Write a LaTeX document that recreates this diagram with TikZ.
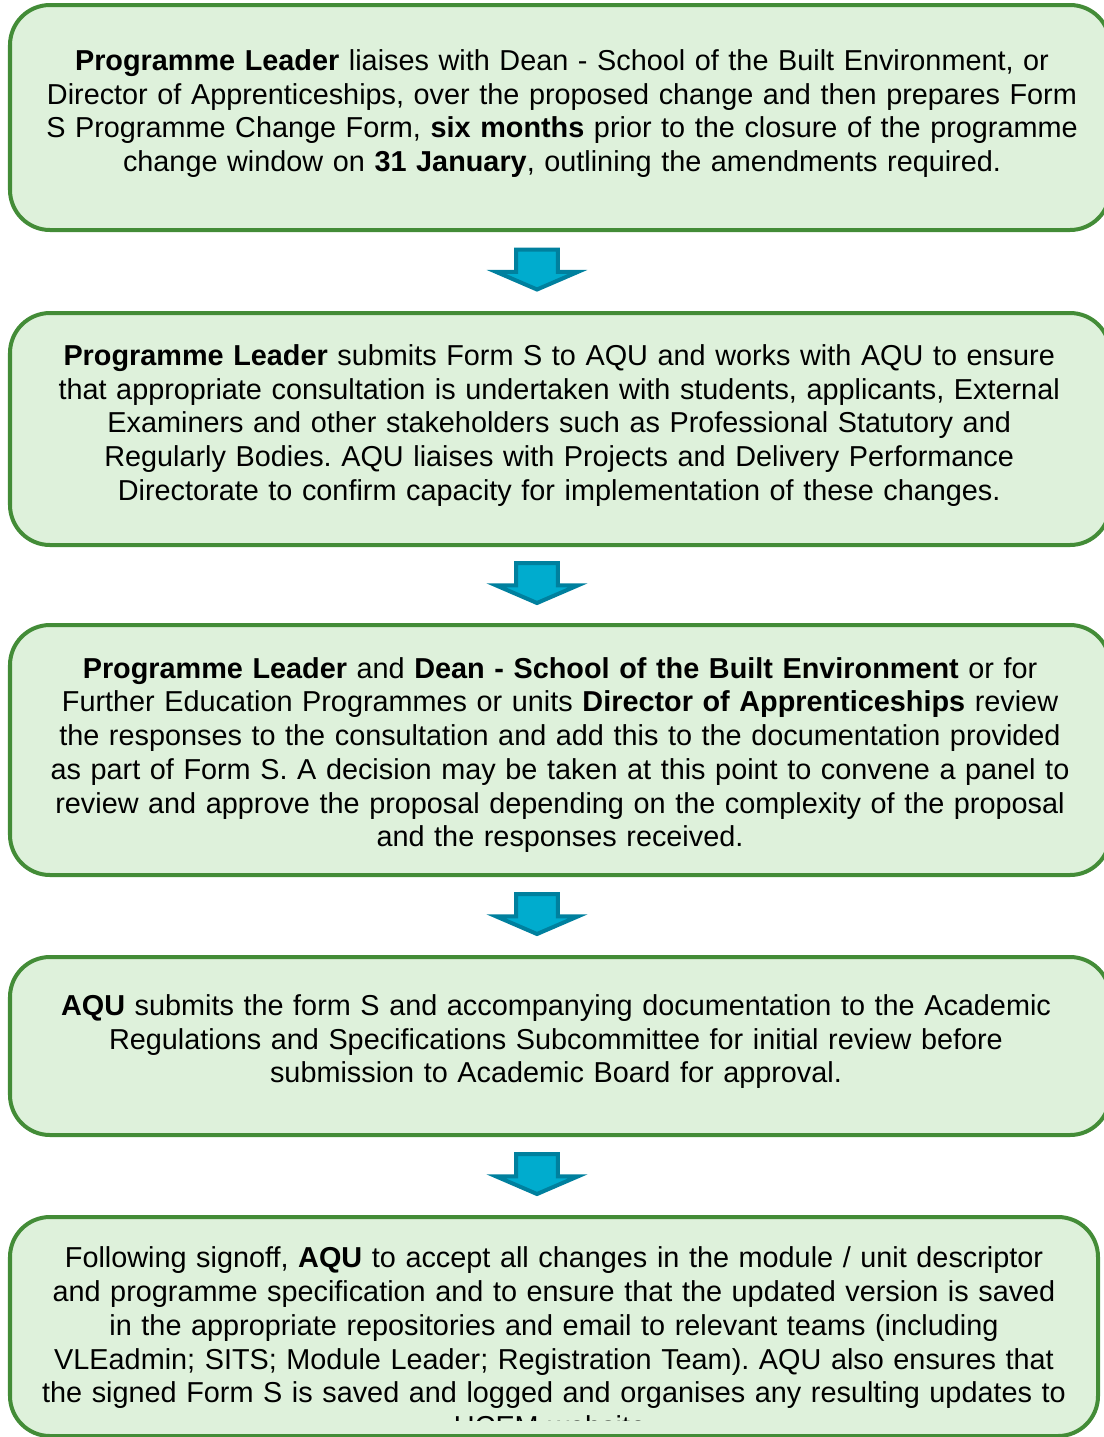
\documentclass[tikz,border=0pt]{standalone}
\usepackage{fontspec}
\setmainfont{Liberation Sans}
\usetikzlibrary{calc}
\usepackage{xcolor}
\definecolor{boxgreen}{RGB}{67,140,55}
\definecolor{boxfill}{RGB}{222,241,219}
\definecolor{arrowcyan}{RGB}{0,172,206}
\definecolor{arrowteal}{RGB}{0,128,158}
\frenchspacing

\begin{document}
\begin{tikzpicture}
  \tikzstyle{mybox}=[draw=boxgreen, fill=boxfill, line width=0.1cm,
    rounded corners=1cm, minimum width=27.5cm, anchor=north west,
    outer sep=0pt];
  \tikzstyle{mytext}=[text width=26.6cm, align=center, inner sep=0pt,
    font=\fontsize{20.5}{24}\selectfont];
  \tikzstyle{myarrow}=[draw=arrowteal, fill=arrowcyan, line width=0.1cm,
    line join=miter];
  %
  \useasboundingbox (0,0) rectangle (27.6,-35.925);
  \clip (0,0) rectangle (27.6,-35.925);
  %
  % step boxes
  \node[mybox, minimum height=5.625cm] (leader) at (0.25,-0.125) {};
  \node[mybox, minimum height=5.8cm] (consult) at (0.25,-7.825) {};
  \node[mybox, minimum height=6.25cm] (review) at (0.25,-15.625) {};
  \node[mybox, minimum height=4.45cm] (submit) at (0.25,-23.925) {};
  \node[mybox, minimum height=5.475cm, minimum width=27.2cm] (signoff)
    at (0.25,-30.425) {};
  %
  % texts of the steps
  \node[mytext] (leadertext) at ($(leader.center) + (0.05, 0.1)$) {
    \textbf{Programme Leader} liaises with Dean - School of the Built Environment, or\\
    Director of Apprenticeships, over the proposed change and then prepares Form\\
    S Programme Change Form, \textbf{six months} prior to the closure of the programme\\
    change window on \textbf{31 January}, outlining the amendments required.};
  %
  \node[mytext] (consulttext) at ($(consult.center) + (-0.02, 0.09)$) {
    \textbf{Programme Leader} submits Form S to AQU and works with AQU to ensure\\
    that appropriate consultation is undertaken with students, applicants, External\\
    Examiners and other stakeholders such as Professional Statutory and\\
    Regularly Bodies. AQU liaises with Projects and Delivery Performance\\
    Directorate to confirm capacity for implementation of these changes.};
  %
  \node[mytext] (reviewtext) at ($(review.center) + (0, -0.125)$) {
    \textbf{Programme Leader} and \textbf{Dean - School of the Built Environment} or for\\
    Further Education Programmes or units \textbf{Director of Apprenticeships} review\\
    the responses to the consultation and add this to the documentation provided\\
    as part of Form S. A decision may be taken at this point to convene a panel to\\
    review and approve the proposal depending on the complexity of the proposal\\
    and the responses received.};
  %
  \node[mytext] (submittext) at ($(submit.center) + (-0.1, 0.11)$) {
    \textbf{AQU} submits the form S and accompanying documentation to the Academic\\
    Regulations and Specifications Subcommittee for initial review before\\
    submission to Academic Board for approval.};
  %
  % last text runs past its box, which cuts it
  \begin{scope}
    \clip (signoff.north west) rectangle ($(signoff.south east) + (0, 0.4)$);
    \node[mytext] (signofftext) at ($(signoff.center) + (0, -0.3875)$) {
      Following signoff, \textbf{AQU} to accept all changes in the module / unit descriptor\\
      and programme specification and to ensure that the updated version is saved\\
      in the appropriate repositories and email to relevant teams (including\\
      VLEadmin; SITS; Module Leader; Registration Team). AQU also ensures that\\
      the signed Form S is saved and logged and organises any resulting updates to\\
      UCEM website.};
  \end{scope}
  %
  % arrows between the boxes
  \coordinate (a1) at ($(leader.south)!0.5!(consult.north) + (-0.575, 0.05)$);
  \coordinate (a2) at ($(consult.south)!0.5!(review.north) + (-0.575, 0.05)$);
  \coordinate (a3) at ($(review.south)!0.5!(submit.north) + (-0.575, 0.05)$);
  \coordinate (a4) at ($(submit.south)!0.5!(signoff.north) + (-0.5, 0.05)$);
  \foreach \a in {a1, a2, a3, a4} {
    \draw[myarrow] ($(\a) + (-0.52, 0.5)$) -- ++(1.04, 0) -- ++(0, -0.56)
    -- ++(0.5, 0) -- ($(\a) + (0, -0.5)$) -- ++(-1.02, 0.44)
    -- ++(0.5, 0) -- cycle;
  }
\end{tikzpicture}
\end{document}
